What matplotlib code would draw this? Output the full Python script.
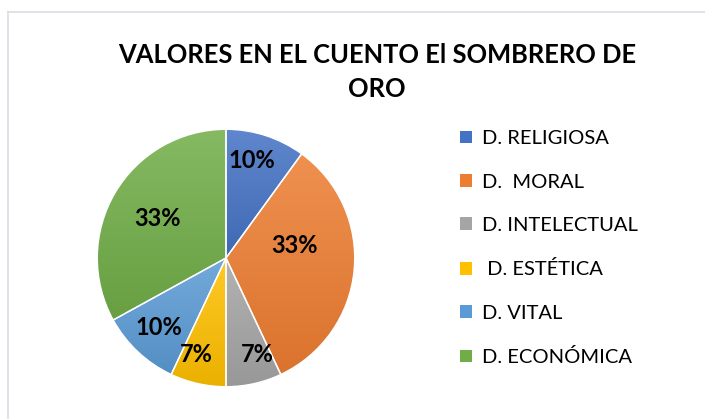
import numpy as np
import matplotlib
matplotlib.use('Agg')
import matplotlib.pyplot as plt
from matplotlib.lines import Line2D
from matplotlib.colors import to_rgb

plt.rcParams['font.family'] = ['Lato', 'DejaVu Sans']

categorias = ['D. RELIGIOSA', 'D.  MORAL', 'D. INTELECTUAL', ' D. ESTÉTICA', 'D. VITAL', 'D. ECONÓMICA']
porcentajes = [10, 33, 7, 7, 10, 33]
colores = ['#4472C4', '#ED7D31', '#A5A5A5', '#FFC000', '#5B9BD5', '#70AD47']
titulo = 'VALORES EN EL CUENTO El SOMBRERO DE\nORO'

# posiciones de las etiquetas (en radios, respecto al centro)
pos_etiquetas = [(0.20, 0.76), (0.53, 0.10), (0.24, -0.75),
                 (-0.23, -0.75), (-0.52, -0.54), (-0.53, 0.31)]

fig = plt.figure(figsize=(7.05, 4.19), dpi=100)
ax = fig.add_axes([96/705, 31/419, 260/705, 260/419])

wedges, _ = ax.pie(porcentajes, colors=colores, startangle=90, counterclock=False,
                   radius=1, wedgeprops=dict(edgecolor='white', linewidth=1))

# degradado tipo Excel en cada porcion
def mezcla(c, f):
    c = np.array(to_rgb(c))
    if f > 0:
        return c + (1 - c) * f
    return c * (1 + f)

for w, c in zip(wedges, colores):
    top = mezcla(c, 0.15)
    bot = mezcla(c, -0.08)
    grad = np.linspace(0, 1, 256)[:, None, None]
    img = top[None, None, :] * (1 - grad) + bot[None, None, :] * grad
    bb = w.get_path().get_extents(w.get_transform() - ax.transData)
    im = ax.imshow(img, extent=[bb.x0, bb.x1, bb.y0, bb.y1], origin='upper',
                   aspect='auto', zorder=w.get_zorder(), interpolation='bilinear')
    im.set_clip_path(w)
    w.set_facecolor('none')
    w.set_zorder(w.get_zorder() + 0.5)

for p, (x, y) in zip(porcentajes, pos_etiquetas):
    ax.text(x, y, f'{p}%', ha='center', va='center', fontsize=17,
            fontweight='bold', color='black', zorder=5)

ax.set_xlim(-1.01, 1.01)
ax.set_ylim(-1.01, 1.01)
ax.set_aspect('equal')
ax.axis('off')

fig.text(377/705, 1 - 72/419, titulo, ha='center', va='center', fontsize=18.4,
         fontweight='bold', linespacing=1.5)

leg = fig.legend(wedges, categorias, loc='upper left',
                 bbox_to_anchor=(442/705, 1 - 112/419), frameon=False,
                 fontsize=14.5, handlelength=0.6, handleheight=0.6,
                 handletextpad=0.5, labelspacing=1.31)
for h, c in zip(leg.legend_handles, colores):
    h.set_facecolor(c)
    h.set_edgecolor('none')

# marco del grafico
fig.add_artist(Line2D([8/705, 8/705], [0, 1 - 12/419], transform=fig.transFigure,
                      color='#d9dde3', lw=1.2))
fig.add_artist(Line2D([8/705, 1], [1 - 12/419, 1 - 12/419], transform=fig.transFigure,
                      color='#d9dde3', lw=1.2))

fig.savefig('out.png', dpi=100)
